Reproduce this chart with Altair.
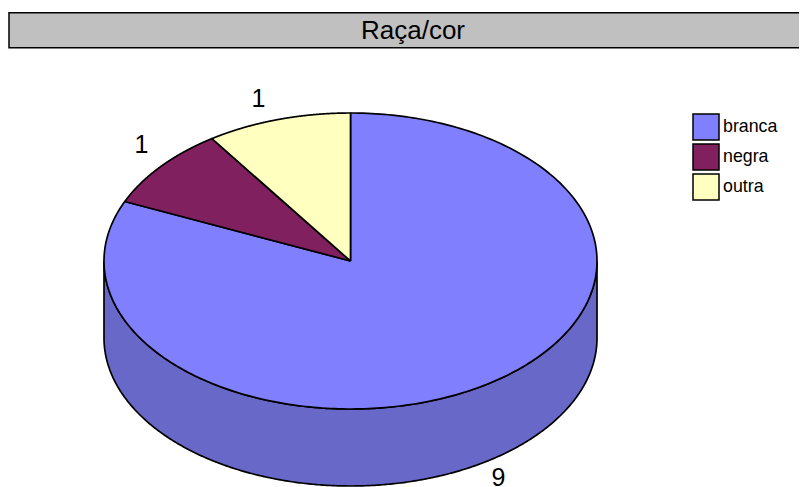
import numpy as np
import pandas as pd
import altair as alt

categories = ["branca", "negra", "outra"]
values = [9, 1, 1]
# Slice sweep in degrees as measured on the drawn pie
sweeps = [293.7, 32.1, 34.2]
colors = ["#8080FF", "#80205F", "#FFFFC0"]
side_color = "#6868C8"
title_text = "Raça/cor"

W, H = 791, 485
CX, CY, RX, RY, DEPTH = 342.5, 253, 246.5, 148, 77
SANS = "Liberation Sans"

x_scale = alt.Scale(domain=[-CX / RX, (W - CX) / RX], range=[0, W])
y_scale = alt.Scale(domain=[(CY - H) / RY, CY / RY], range=[H, 0])
X = alt.X("u:Q", scale=x_scale, axis=None)
Y = alt.Y("v:Q", scale=y_scale, axis=None)

# Clockwise from 12 o'clock, in the order branca, negra, outra
edges = np.radians(np.concatenate([[0], np.cumsum(sweeps)]))
rows = []
for cat, a, b in zip(categories, edges[:-1], edges[1:]):
    ts = np.linspace(a, b, 300)
    pts = [(0.0, 0.0)] + [(np.sin(t), np.cos(t)) for t in ts] + [(0.0, 0.0)]
    rows += [{"cat": cat, "i": i, "u": u, "v": v} for i, (u, v) in enumerate(pts)]
slices = pd.DataFrame(rows)

depth = DEPTH / RY
ts = np.linspace(np.pi / 2, 3 * np.pi / 2, 400)
outline = [(np.sin(t), np.cos(t)) for t in ts]
outline += [(np.sin(t), np.cos(t) - depth) for t in ts[::-1]]
outline.append(outline[0])
side = pd.DataFrame([{"i": i, "u": u, "v": v} for i, (u, v) in enumerate(outline)])

side_layer = alt.Chart(side).mark_line(
    filled=True, fill=side_color, stroke="black", strokeWidth=1.7, strokeJoin="round"
).encode(x=X, y=Y, order="i:Q")

slice_layer = alt.Chart(slices).mark_line(
    filled=True, stroke="black", strokeWidth=1.7, strokeJoin="round"
).encode(
    x=X, y=Y, order="i:Q",
    fill=alt.Fill(
        "cat:N",
        scale=alt.Scale(domain=categories, range=colors),
        legend=alt.Legend(
            title=None, orient="none", legendX=684, legendY=105,
            symbolType="square", symbolSize=676, symbolStrokeColor="black",
            symbolStrokeWidth=1.5, symbolOpacity=1, labelFont=SANS, labelFontSize=17.8,
            labelColor="black", rowPadding=-2, labelOffset=3,
        ),
    ),
)

# Data labels placed just off the rim, at each slice's mid angle
label_pos = {"branca": (0.60, -1.466), "negra": (-0.848, 0.787), "outra": (-0.373, 1.095)}
labels = pd.DataFrame(
    [{"cat": c, "n": str(v), "u": label_pos[c][0], "v": label_pos[c][1]}
     for c, v in zip(categories, values)]
)
label_layer = alt.Chart(labels).mark_text(
    font=SANS, fontSize=25, color="black", align="center", baseline="middle"
).encode(x=X, y=Y, text="n:N")

band = alt.Chart(pd.DataFrame({"a": [0]})).mark_rect(
    fill="#C0C0C0", stroke="black", strokeWidth=1.5
).encode(x=alt.value(1), x2=alt.value(W + 4), y=alt.value(4.7), y2=alt.value(39.7))

title = alt.Chart(pd.DataFrame({"t": [title_text]})).mark_text(
    font=SANS, fontSize=26, color="black", align="center", baseline="middle"
).encode(x=alt.value(405), y=alt.value(23), text="t:N")

chart = (
    alt.layer(band, title, side_layer, slice_layer, label_layer)
    .resolve_scale(fill="independent")
    .properties(
        width=W, height=H, padding=0,
        autosize=alt.AutoSizeParams(type="none"),
    )
    .configure_view(stroke=None, clip=False)
)
chart.save("out.html", embed_options={"renderer": "svg", "actions": False})
